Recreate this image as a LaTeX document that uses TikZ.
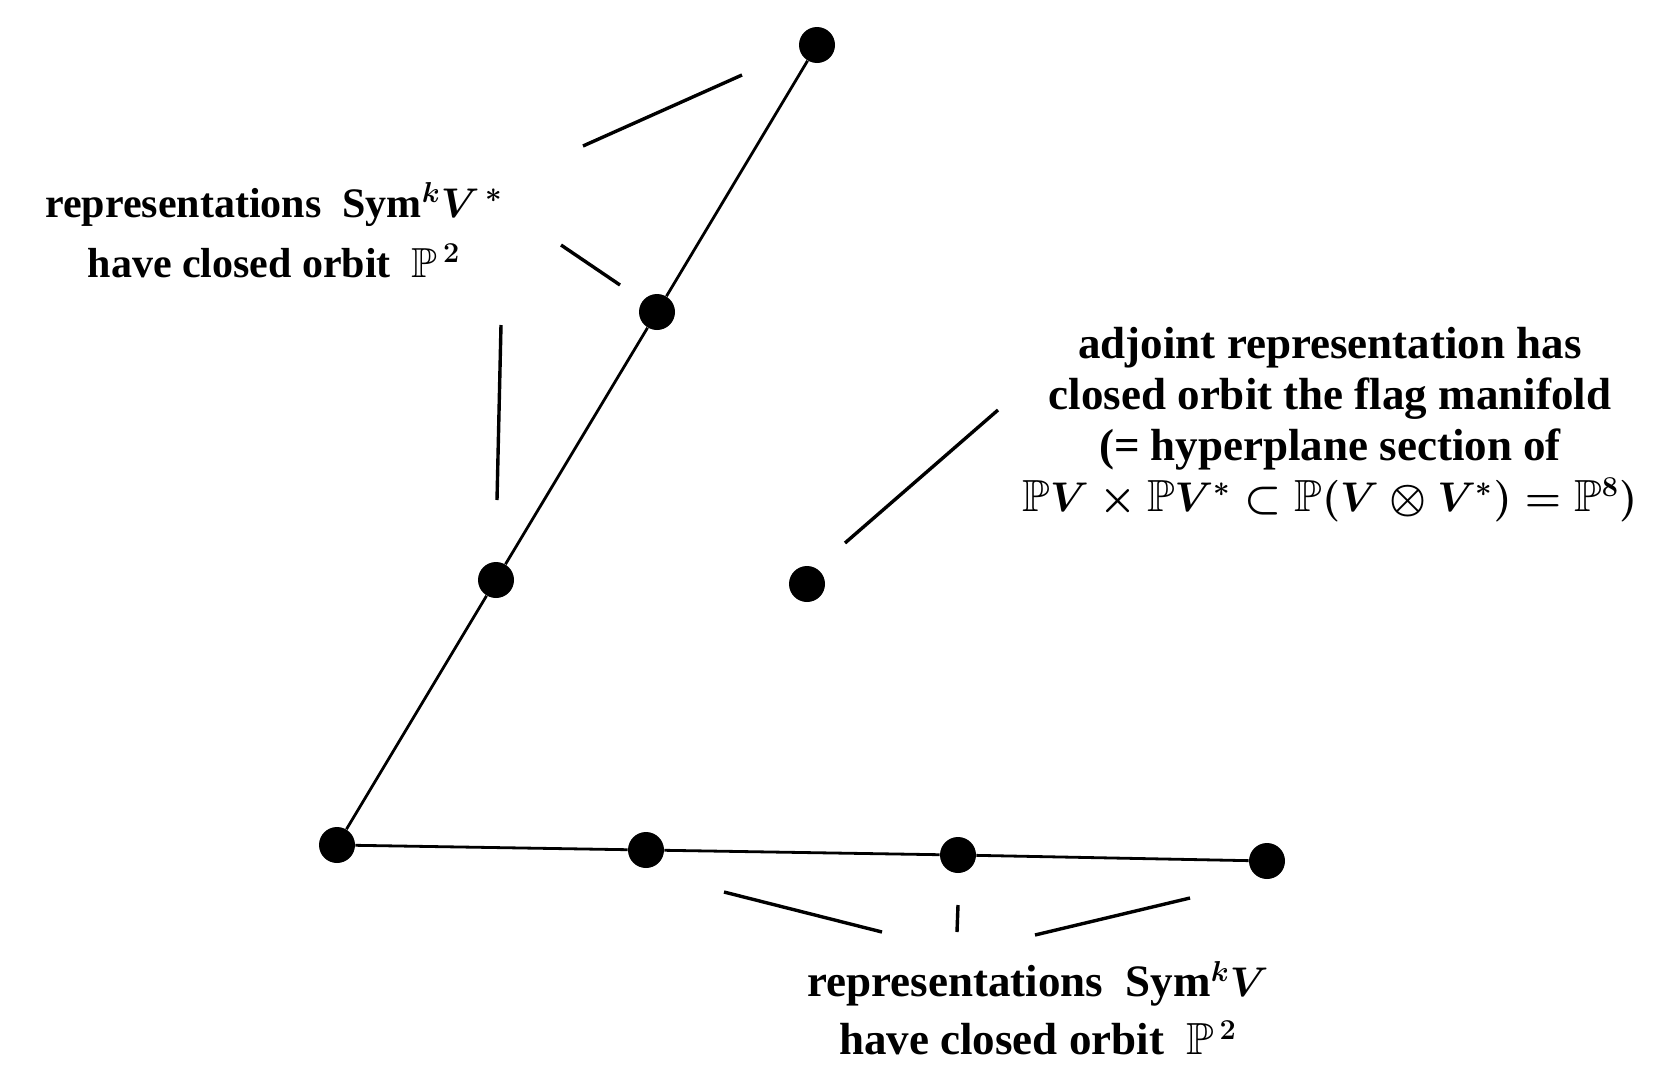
\documentclass[tikz,border=0pt]{standalone}
\usepackage{amssymb}
\usepackage{fontspec}
\setmainfont{Liberation Serif}
\begin{document}
\begin{tikzpicture}[x=0.5pt,y=-0.5pt,
  dot/.style={circle,fill=black,inner sep=0pt,minimum size=18pt},
  edge/.style={line width=1.4pt},
  leader/.style={line width=1.7pt},
  lbl/.style={align=center,inner sep=0pt,font=\fontsize{21}{30}\selectfont\bfseries\boldmath}]
\useasboundingbox (0,0) rectangle (1670,1066);
% dots
\node[dot] (A) at (817,45) {};
\node[dot] (B) at (657,312) {};
\node[dot] (C) at (496,580) {};
\node[dot] (D) at (337,845) {};
\node[dot] (E) at (646,850) {};
\node[dot] (F) at (958,855) {};
\node[dot] (G) at (1267,861) {};
\node[dot] (H) at (807,584) {};
\draw[edge] (A) -- (B) -- (C) -- (D) -- (E) -- (F) -- (G);
% labels
\node[lbl] (L1) at (274,230) {representations\ \ Sym$^k V^{\,*}$\\have closed orbit\ \ $\mathbb{P}^{\,2}$};
\node[lbl,font=\fontsize{22.5}{25.5}\selectfont\bfseries\boldmath] (L2) at (1330,425) {adjoint representation has\\closed orbit the flag manifold\\(= hyperplane section of\\$\mathbb{P}V\times\mathbb{P}V^*\subset\mathbb{P}(V\otimes V^*)=\mathbb{P}^8)$};
\node[lbl,font=\fontsize{22.5}{29}\selectfont\bfseries\boldmath] (L3) at (1038,1008) {representations\ \ Sym$^k V$\\have closed orbit\ \ $\mathbb{P}^{\,2}$};
% leader lines
\coordinate (a1) at (583,146); \coordinate (a2) at (742,75);
\coordinate (b1) at (561,245); \coordinate (b2) at (620,285);
\coordinate (c1) at (501,325); \coordinate (c2) at (497,500);
\coordinate (h1) at (845,543); \coordinate (h2) at (998,410);
\coordinate (e1) at (724,892); \coordinate (e2) at (882,932);
\coordinate (f1) at (958,905); \coordinate (f2) at (957,932);
\coordinate (g1) at (1035,935); \coordinate (g2) at (1190,898);
\draw[leader] (a1) -- (a2);
\draw[leader] (b1) -- (b2);
\draw[leader] (c1) -- (c2);
\draw[leader] (h1) -- (h2);
\draw[leader] (e1) -- (e2);
\draw[leader] (f1) -- (f2);
\draw[leader] (g1) -- (g2);
\end{tikzpicture}
\end{document}
